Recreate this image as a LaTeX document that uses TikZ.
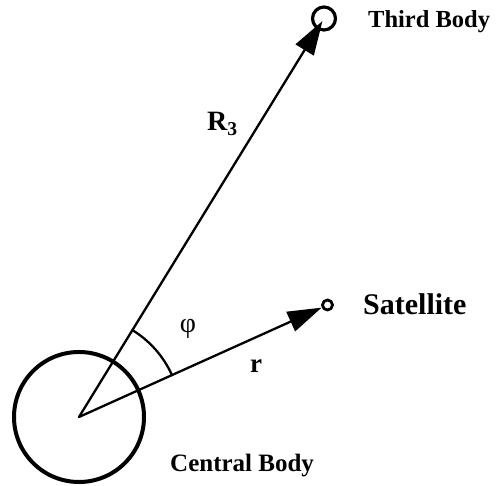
\documentclass[tikz,border=0pt]{standalone}
\usepackage{fontspec}
\setmainfont{Liberation Serif}
\usetikzlibrary{arrows.meta}
\begin{document}
\begin{tikzpicture}[x=1pt,y=1pt,line join=round,line cap=round,
	vec/.style={line width=2.3pt,-{Triangle[length=34pt,width=21pt]}},
	lbl/.style={font=\bfseries\fontsize{#1}{#1}\selectfont,inner sep=0pt},
	body/.style={circle,draw,inner sep=0pt,minimum size=#1}]
	\def\rarc{102}
	\useasboundingbox (0,0) rectangle (496,486);
	\node[body=130pt,line width=4pt] (cb) at (79,69) {};
	\node[body=23pt,line width=3.2pt] (third) at (324,467.5) {};
	\node[body=10pt,line width=2.8pt] (sat) at (327.5,181) {};
	\draw[vec,shorten >=3pt] (cb.center) -- (third.center);
	\draw[vec] (cb.center) -- (sat);
	\draw[line width=2.3pt] ([shift={(24.2:\rarc)}]cb.center) arc[start angle=24.2,end angle=58.4,radius=\rarc];
	\node[lbl=28,anchor=base west] (lR) at (207,355) {R$_{\mathbf{3}}$};
	\node[lbl=27,anchor=base] (lr) at (256,113) {r};
	\node[font=\fontsize{28}{28}\selectfont,inner sep=0pt] (lphi) at (188,157) {φ};
	\node[lbl=30,anchor=base west] (lsat) at (363,171) {Satellite};
	\node[lbl=24.5,anchor=base west] (lthird) at (368,458) {Third Body};
	\node[lbl=25,anchor=base west] (lcb) at (170,14) {Central Body};
\end{tikzpicture}
\end{document}
